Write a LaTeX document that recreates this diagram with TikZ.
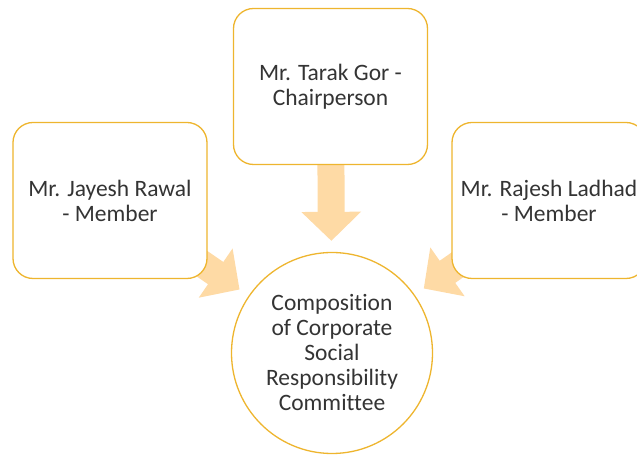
\documentclass[tikz,border=0pt]{standalone}
\usepackage{fontspec}
\setmainfont[Ligatures=CommonOff]{Carlito}
\usepackage[dvipsnames]{xcolor}
\usetikzlibrary{positioning,arrows.meta,backgrounds}

\definecolor{csrgold}{RGB}{238,181,46}
\definecolor{csrpeach}{RGB}{254,218,165}
\definecolor{csrtext}{RGB}{52,52,52}

\begin{document}
\begin{tikzpicture}[node distance=152.5pt,
    box node/.style={draw=csrgold,line width=1.3pt,fill=white,rounded corners=20pt,minimum width=194pt,minimum height=156pt,align=center,text=csrtext,font=\fontsize{23.5}{25}\selectfont},
    circ node/.style={circle,draw=csrgold,line width=1.3pt,fill=white,minimum size=201pt,inner sep=0pt,align=center,text=csrtext,font=\fontsize{23.5}{25}\selectfont},
    block arrow/.style={draw=csrpeach,line width=27pt,-{Triangle[width=58pt,length=29pt]},shorten >=11pt}]
                \useasboundingbox (-332pt,-104pt) rectangle (305pt,353pt);
                \node[circ node] (c) []{Composition\\of Corporate\\Social\\Responsibility\\Committee};
                \node[box node] (l) [above of = c, xshift = -222pt]{Mr. Jayesh Rawal\\- Member};
                \node[box node] (r) [above of = c, xshift = 217pt]{Mr. Rajesh Ladhad\\- Member};
                \node[box node] (t) [above of = c, xshift = -1.5pt, yshift = 114pt]{Mr. Tarak Gor -\\Chairperson};

                \begin{scope}[on background layer]
                \path
                    (t.center) edge[block arrow] (c)
                    (l.center) edge[block arrow] (c)
                    (r.center) edge[block arrow] (c)
                    ;
                \end{scope}
            \end{tikzpicture}
\end{document}
